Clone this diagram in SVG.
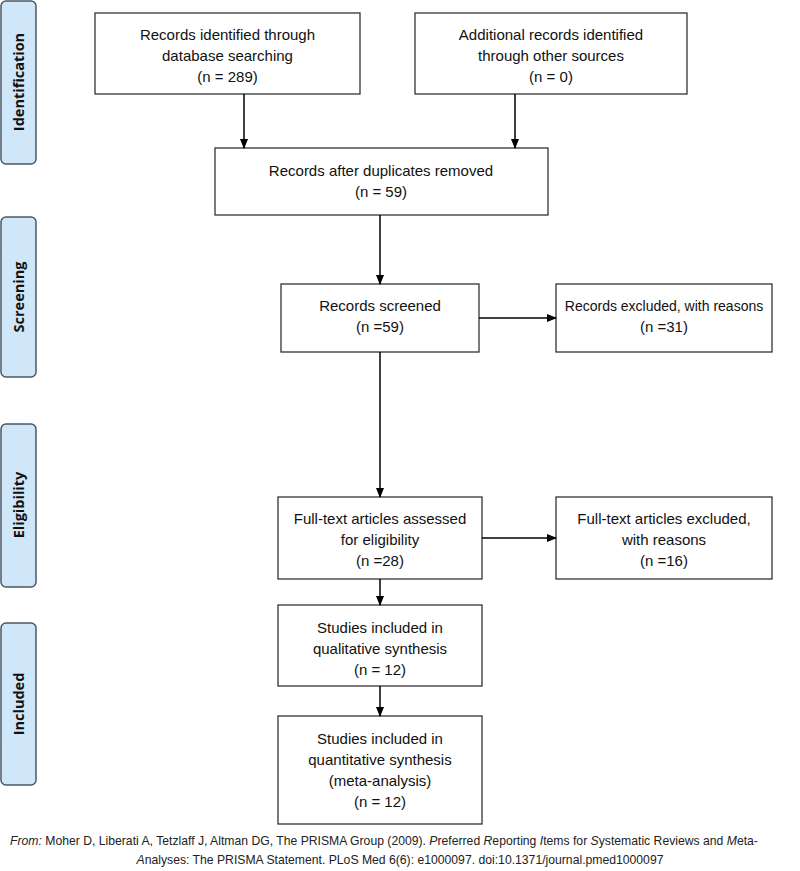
<svg xmlns="http://www.w3.org/2000/svg" width="800" height="871" viewBox="0 0 800 871">
<defs>
<marker id="ah" markerWidth="10" markerHeight="10" refX="9" refY="5" orient="auto" markerUnits="userSpaceOnUse">
<path d="M0,1 L10,5 L0,9 Z" fill="#000"/>
</marker>
<style>
.box{fill:#fff;stroke:#333;stroke-width:1.3}
.lab{fill:#cfe7f9;stroke:#4a5866;stroke-width:1.5}
.t{font-family:"Liberation Sans",Arial,sans-serif;font-size:15px;fill:#111;text-anchor:middle}
.s{font-family:"Open Sans","Liberation Sans",sans-serif;font-size:14.5px;font-weight:bold;fill:#111;text-anchor:middle}
.f{font-family:"Liberation Sans",Arial,sans-serif;font-size:12.2px;fill:#222;text-anchor:middle}
.c{stroke:#000;stroke-width:1.5;fill:none;marker-end:url(#ah)}
</style>
</defs>
<rect width="800" height="871" fill="#fff"/>
<g id="lab-identification"><rect class="lab" x="1" y="1" width="35" height="163" rx="5"/><text class="s" transform="translate(24,82) rotate(-90)">Identification</text></g>
<g id="lab-screening"><rect class="lab" x="1" y="217" width="35" height="160" rx="5"/><text class="s" transform="translate(24,297) rotate(-90)">Screening</text></g>
<g id="lab-eligibility"><rect class="lab" x="1" y="424" width="35" height="163" rx="5"/><text class="s" transform="translate(24,505) rotate(-90)">Eligibility</text></g>
<g id="lab-included"><rect class="lab" x="1" y="623" width="35" height="162" rx="5"/><text class="s" transform="translate(24,704) rotate(-90)">Included</text></g>

<g id="n1"><rect class="box" x="95" y="13" width="265" height="81"/>
<text class="t" x="227.5" y="40">Records identified through</text>
<text class="t" x="227.5" y="61">database searching</text>
<text class="t" x="227.5" y="82">(n = 289)</text></g>
<g id="n2"><rect class="box" x="415" y="13" width="272" height="81"/>
<text class="t" x="551" y="40">Additional records identified</text>
<text class="t" x="551" y="61">through other sources</text>
<text class="t" x="551" y="82">(n = 0)</text></g>
<g id="n3"><rect class="box" x="215" y="148" width="333" height="67"/>
<text class="t" x="381" y="176">Records after duplicates removed</text>
<text class="t" x="381" y="197">(n = 59)</text></g>
<g id="n4"><rect class="box" x="281" y="284" width="198" height="68"/>
<text class="t" x="380" y="311">Records screened</text>
<text class="t" x="380" y="332">(n =59)</text></g>
<g id="n5"><rect class="box" x="556" y="284" width="216" height="68"/>
<text class="t" x="664" y="311" style="font-size:14px">Records excluded, with reasons</text>
<text class="t" x="664" y="332">(n =31)</text></g>
<g id="n6"><rect class="box" x="278" y="497" width="204" height="82"/>
<text class="t" x="380" y="524">Full-text articles assessed</text>
<text class="t" x="380" y="545">for eligibility</text>
<text class="t" x="380" y="566">(n =28)</text></g>
<g id="n7"><rect class="box" x="556" y="497" width="216" height="82"/>
<text class="t" x="664" y="524">Full-text articles excluded,</text>
<text class="t" x="664" y="545">with reasons</text>
<text class="t" x="664" y="566">(n =16)</text></g>
<g id="n8"><rect class="box" x="278" y="605" width="204" height="81"/>
<text class="t" x="380" y="633">Studies included in</text>
<text class="t" x="380" y="654">qualitative synthesis</text>
<text class="t" x="380" y="675">(n = 12)</text></g>
<g id="n9"><rect class="box" x="278" y="716" width="204" height="108"/>
<text class="t" x="380" y="744">Studies included in</text>
<text class="t" x="380" y="765">quantitative synthesis</text>
<text class="t" x="380" y="786">(meta-analysis)</text>
<text class="t" x="380" y="807">(n = 12)</text></g>

<g id="connectors">
<line class="c" x1="244" y1="94" x2="244" y2="148"/>
<line class="c" x1="515" y1="94" x2="515" y2="148"/>
<line class="c" x1="380" y1="215" x2="380" y2="284"/>
<line class="c" x1="479" y1="318" x2="556" y2="318"/>
<line class="c" x1="380" y1="352" x2="380" y2="497"/>
<line class="c" x1="482" y1="538" x2="556" y2="538"/>
<line class="c" x1="380" y1="579" x2="380" y2="605"/>
<line class="c" x1="380" y1="686" x2="380" y2="716"/>
</g>

<g id="footer">
<text class="f" x="384" y="845"><tspan font-style="italic">From:</tspan>  Moher D, Liberati A, Tetzlaff J, Altman DG, The PRISMA Group (2009). <tspan font-style="italic">P</tspan>referred <tspan font-style="italic">R</tspan>eporting <tspan font-style="italic">I</tspan>tems for <tspan font-style="italic">S</tspan>ystematic Reviews and <tspan font-style="italic">M</tspan>eta-</text>
<text class="f" x="400" y="864"><tspan font-style="italic">A</tspan>nalyses: The PRISMA Statement. PLoS Med 6(6): e1000097. doi:10.1371/journal.pmed1000097</text>
</g>
</svg>
